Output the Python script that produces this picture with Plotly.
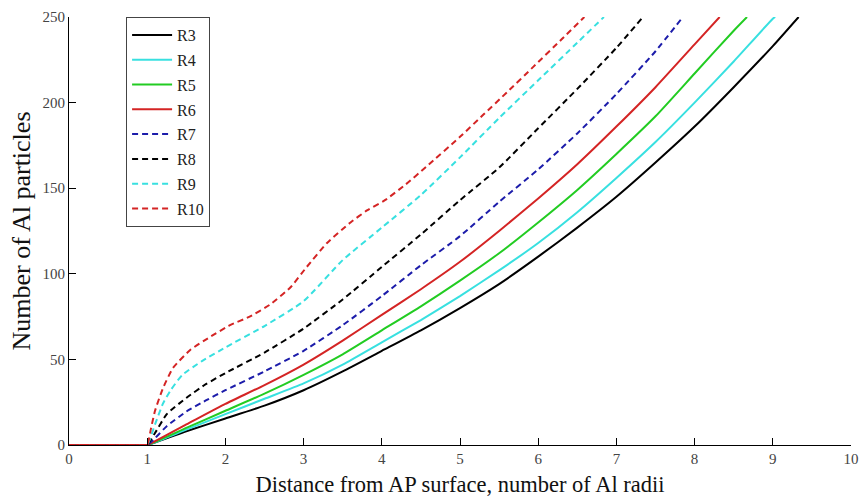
import plotly.graph_objects as go

# ---- data ----
names = ["R3", "R4", "R5", "R6", "R7", "R8", "R9", "R10"]

r3_x = [0, 0.95, 1.0, 1.5, 2, 2.5, 3, 3.5, 4, 4.5, 5, 5.5, 6, 6.5, 7, 7.5, 8, 8.5, 9, 9.33]
r3_y = [0, 0, 0, 8, 15.5, 23, 32, 43, 55, 67, 80, 94, 110, 127, 145, 165, 186, 209, 233, 250]

r4_x = [0, 0.95, 1.0, 1.5, 2, 2.5, 3, 3.5, 4, 4.5, 5, 5.5, 6, 6.5, 7, 7.5, 8, 8.5, 9, 9.03]
r4_y = [0, 0, 0, 9, 18, 27, 36, 47, 60, 73, 87, 102, 118, 136, 156, 177, 200, 224, 249, 250]

r5_x = [0, 0.95, 1.0, 1.5, 2, 2.5, 3, 3.5, 4, 4.5, 5, 5.5, 6, 6.5, 7, 7.5, 8, 8.5, 8.67]
r5_y = [0, 0, 0, 10, 20, 30, 41, 53, 67, 81, 96, 112, 130, 149, 170, 192, 217, 242, 250]

r6_x = [0, 0.95, 1.0, 1.5, 2, 2.5, 3, 3.5, 4, 4.5, 5, 5.5, 6, 6.5, 7, 7.5, 8, 8.32]
r6_y = [0, 0, 0, 12, 24, 35, 47, 61, 76, 91, 107, 125, 144, 164, 186, 209, 234, 250]

r7_x = [0, 0.95, 1.0, 1.1, 1.25, 1.5, 1.75, 2, 2.5, 3, 3.5, 4, 4.5, 5, 5.5, 6, 6.5, 7, 7.5, 7.85]
r7_y = [0, 0, 0, 4, 11, 19.5, 26, 32, 43, 55, 70, 87, 105, 122, 142, 161, 182, 205, 230, 250]

r8_x = [0, 0.95, 1.0, 1.1, 1.25, 1.5, 1.75, 2, 2.5, 3, 3.5, 4, 4.5, 5, 5.5, 6, 6.5, 7, 7.34]
r8_y = [0, 0, 0, 7, 18, 27.5, 35.5, 42, 54, 68, 85, 104, 123, 143, 162, 185, 208, 232, 250]

r9_x = [0, 0.95, 1.0, 1.1, 1.2, 1.3, 1.45, 1.7, 2, 2.5, 3, 3.5, 4, 4.5, 5, 5.5, 6, 6.5, 6.84]
r9_y = [0, 0, 0, 12, 24, 32, 41, 49, 57, 69.5, 84, 108, 127, 146, 168, 191, 213, 235, 250]

r10_x = [0, 0.95, 1.0, 1.05, 1.1, 1.2, 1.33, 1.55, 1.8, 2.06, 2.31, 2.57, 2.83, 3.04, 3.3, 3.6,
         3.81, 4.04, 4.3, 4.57, 5.0, 5.3, 5.6, 5.94, 6.3, 6.59]
r10_y = [0, 0, 0, 10, 20, 33, 45, 55.5, 63, 70, 75, 82, 92, 104, 118, 130,
         137, 143, 152, 162.6, 180, 193, 206, 221, 237, 250]

x_ticks = [0, 1, 2, 3, 4, 5, 6, 7, 8, 9, 10]
y_ticks = [0, 50, 100, 150, 200, 250]

series_x = [r3_x, r4_x, r5_x, r6_x, r7_x, r8_x, r9_x, r10_x]
series_y = [r3_y, r4_y, r5_y, r6_y, r7_y, r8_y, r9_y, r10_y]

# ---- styles ----
colors = ["#000000", "#38e0e0", "#22cc22", "#d42424", "#1c1caa", "#000000", "#38e0e0", "#d42424"]
dashes = ["solid", "solid", "solid", "solid", "6px,4px", "6px,4px", "6px,4px", "6px,4px"]

SERIF = "Liberation Serif, Times New Roman, serif"

fig = go.Figure()
for i, nm in enumerate(names):
    fig.add_trace(go.Scatter(
        x=series_x[i], y=series_y[i], mode="lines", name=nm,
        legendgroup=nm,
        line=dict(color=colors[i], width=2, dash=dashes[i],
                  shape="spline", smoothing=0.5),
    ))

fig.update_layout(
    width=860, height=502,
    margin=dict(l=69, r=9, t=17, b=57, autoexpand=False),
    paper_bgcolor="white", plot_bgcolor="white",
    font=dict(family=SERIF, color="#222222", size=15),
    showlegend=True,
    legend=dict(
        x=0.073, y=1.0, xanchor="left", yanchor="top",
        bordercolor="#444444", borderwidth=1, bgcolor="white",
        font=dict(family=SERIF, size=16, color="#222222"),
        tracegroupgap=1,
        itemwidth=40,
    ),
    xaxis=dict(
        range=[0, 10], tickvals=x_ticks, ticktext=[str(v) for v in x_ticks],
        showgrid=False, zeroline=False, showline=True, linecolor="#000000", linewidth=1,
        ticks="inside", ticklen=7, tickcolor="#000000",
        tickfont=dict(family=SERIF, size=15, color="#444444"),
        title=dict(text="Distance from AP surface, number of Al radii",
                   font=dict(family=SERIF, size=22.5, color="#111111"), standoff=10),
    ),
    yaxis=dict(
        range=[0, 250], tickvals=y_ticks, ticktext=[str(v) for v in y_ticks],
        showgrid=False, zeroline=False, showline=True, linecolor="#000000", linewidth=1,
        ticks="inside", ticklen=7, tickcolor="#000000",
        tickfont=dict(family=SERIF, size=15, color="#444444"),
        title=dict(text="Number of Al particles",
                   font=dict(family=SERIF, size=26, color="#111111"), standoff=4),
    ),
)

fig.write_html("out.html", config={"displayModeBar": False},
               post_script="document.body.style.margin='0px';")
